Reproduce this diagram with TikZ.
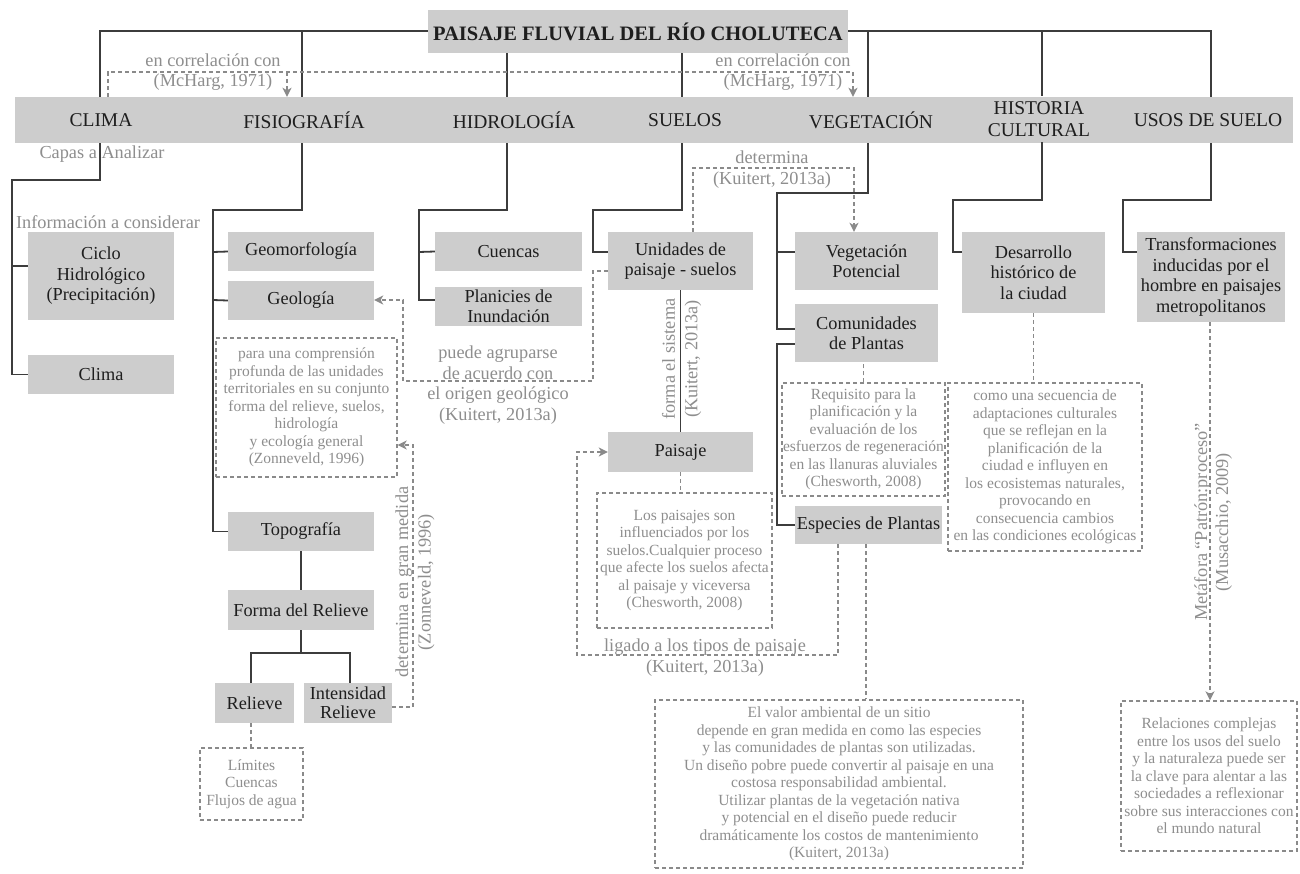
\documentclass[tikz,border=0pt]{standalone}
\usepackage{fontspec}
\setmainfont{Liberation Serif}
\usetikzlibrary{arrows.meta}
\definecolor{boxgray}{HTML}{CDCDCD}
\definecolor{ink}{HTML}{1E1E1E}
\definecolor{lnk}{HTML}{3C3C3C}
\definecolor{dsh}{HTML}{8A8A8A}
\definecolor{ntx}{HTML}{8E8E8E}
\begin{document}
\begin{tikzpicture}[x=1pt,y=-1pt,
  box/.style={fill=boxgray, inner sep=0pt, align=center, text=ink, font=\fontsize{18.3}{20.5}\selectfont},
  hdr/.style={inner sep=0pt, minimum height=46pt, align=center, text=ink, font=\fontsize{19.5}{22}\selectfont},
  lab/.style={inner sep=0pt, align=center, text=ntx, font=\fontsize{18.3}{20.5}\selectfont},
  dbox/.style={draw=dsh, line width=1.3pt, dash pattern=on 4pt off 3pt, inner sep=0pt, align=center, text=ntx, font=\fontsize{15.5}{17.5}\selectfont},
  conn/.style={draw=lnk, line width=1.8pt},
  dline/.style={draw=dsh, line width=1.4pt, dash pattern=on 4pt off 3pt},
  arr/.style={-{Stealth[length=9pt,width=9pt,inset=2.5pt]}},
]
\path[use as bounding box, fill=white] (0,0) rectangle (1300,873);

% title and header band
\node[box, minimum width=420pt, minimum height=43pt, font=\bfseries\fontsize{20.5}{22}\selectfont] (title) at (638,31.5) {PAISAJE FLUVIAL DEL RÍO CHOLUTECA};
\node[fill=boxgray, minimum width=1278pt, minimum height=46pt, inner sep=0pt] (band) at (654,120) {};
\node[hdr] (clima) at (101,120) {CLIMA};
\node[hdr] (fisio) at (304,120) {FISIOGRAFÍA};
\node[hdr] (hidro) at (514,120) {HIDROLOGÍA};
\node[hdr] (suelos) at (685,120) {SUELOS};
\node[hdr] (veget) at (871,120) {VEGETACIÓN};
\node[hdr] (hist) at (1039,119) {HISTORIA\\CULTURAL};
\node[hdr] (usos) at (1208,120) {USOS DE SUELO};

% title connectors
\draw[conn] (title.west |- 0,31) -| (clima.north -| 100,0);
\draw[conn] (fisio.north -| 302,0) -- (302,31);
\draw[conn] (title.east |- 0,31) -| (usos.north -| 1211,0);
\draw[conn] (veget.north -| 868,0) -- (868,31);
\draw[conn] (hist.north -| 1042,0) -- (1042,31);
\draw[conn] (title.south -| 507,0) -- (hidro.north -| 507,0);
\draw[conn] (title.south -| 682,0) -- (suelos.north -| 682,0);

% correlation dashed
\draw[dline, arr] (clima.north -| 108,0) -- (108,72) -- (853,72) -- (veget.north -| 853,0);
\draw[dline, arr] (287,72) -- (fisio.north -| 287,0);
\node[lab, font=\fontsize{18.3}{20}\selectfont] (corr1) at (213,72) {en correlación con\\(McHarg, 1971)};
\node[lab, font=\fontsize{18.3}{20}\selectfont] (corr2) at (783,72) {en correlación con\\(McHarg, 1971)};

% CLIMA branch
\node[lab] (capas) at (102,154) {Capas a Analizar};
\node[lab] (info) at (108,222) {Información a considerar};
\node[box, minimum width=146pt, minimum height=88pt] (ciclo) at (101,276) {Ciclo\\Hidrológico\\(Precipitación)};
\node[box, minimum width=146pt, minimum height=39pt] (climab) at (101,374.5) {Clima};
\draw[conn] (clima.south -| 100,0) |- (12,180) |- (climab.west);
\draw[conn] (12,266) -- (ciclo.west |- 0,266);

% FISIOGRAFIA branch
\node[box, minimum width=146pt, minimum height=39pt] (geomorf) at (301,251.5) {Geomorfología};
\node[box, minimum width=146pt, minimum height=39pt] (geolog) at (301,300.5) {Geología};
\node[dbox, minimum width=181pt, minimum height=139pt] (para) at (306.5,407.5) {para una comprensión\\profunda de las unidades\\territoriales en su conjunto\\forma del relieve, suelos,\\hidrología\\y ecología general\\(Zonneveld, 1996)};
\node[box, minimum width=146pt, minimum height=39pt] (topo) at (301,531.5) {Topografía};
\node[box, minimum width=146pt, minimum height=40pt] (forma) at (301,610) {Forma del Relieve};
\node[box, minimum width=79pt, minimum height=40pt] (relieve) at (254.5,703) {Relieve};
\node[box, minimum width=88pt, minimum height=40pt, font=\fontsize{18.3}{19}\selectfont] (intens) at (348,703) {Intensidad\\Relieve};
\node[dbox, minimum width=103pt, minimum height=72pt] (limites) at (251.5,784) {Límites\\Cuencas\\Flujos de agua};
\draw[conn] (fisio.south -| 302,0) |- (213,210) |- (topo.west);
\draw[conn] (213,252) -- (geomorf.west);
\draw[conn] (213,300) -- (geolog.west);
\draw[conn] (topo.south) -- (forma.north);
\draw[conn] (forma.south) -- (forma.south |- 0,653);
\draw[conn] (relieve.north -| 251,0) |- (350,653) -- (intens.north -| 350,0);
\draw[dline] (relieve.south -| 251,0) -- (limites.north -| 251,0);
\draw[dline, arr] (intens.east |- 0,707) -- (413,707) -- (413,445) -- (para.east |- 0,445);
\node[lab, rotate=90, font=\fontsize{18.3}{22.5}\selectfont] (detzon) at (415,582) {determina en gran medida\\(Zonneveld, 1996)};

% HIDROLOGIA branch
\node[box, minimum width=147pt, minimum height=39pt] (cuencas) at (508.5,251.5) {Cuencas};
\node[box, minimum width=147pt, minimum height=39pt, font=\fontsize{18.3}{20}\selectfont] (planic) at (508.5,306.5) {Planicies de\\Inundación};
\draw[conn] (hidro.south -| 507,0) |- (419,210) |- (planic.west |- 0,300);
\draw[conn] (419,252) -- (cuencas.west);

% SUELOS branch
\node[box, minimum width=145pt, minimum height=58pt] (unid) at (680.5,261) {Unidades de\\paisaje - suelos};
\node[box, minimum width=145pt, minimum height=40pt] (paisaje) at (680.5,452) {Paisaje};
\node[dbox, minimum width=175pt, minimum height=135pt] (lospais) at (684.5,560.5) {Los paisajes son\\influenciados por los\\suelos.Cualquier proceso\\que afecte los suelos afecta\\al paisaje y viceversa\\(Chesworth, 2008)};
\draw[conn] (suelos.south -| 682,0) |- (593,210) |- (unid.west |- 0,252);
\draw[conn] (unid.south) -- (paisaje.north);
\node[lab, rotate=90, font=\fontsize{18.3}{22.5}\selectfont] (forma2) at (681.5,359) {forma el sistema\\(Kuitert, 2013a)};
\draw[dline, arr] (unid.west |- 0,271) -- (593,271) -- (593,381) -- (403,381) -- (403,300) -- (geolog.east |- 0,300);
\node[lab] (agrup) at (498,385) {puede agruparse\\de acuerdo con\\el origen geológico\\(Kuitert, 2013a)};
\draw[dline] (paisaje.south) -- (paisaje.south |- lospais.north);

% VEGETACION branch
\node[box, minimum width=143pt, minimum height=58pt] (vegpot) at (866.5,261) {Vegetación\\Potencial};
\node[box, minimum width=143pt, minimum height=58pt] (comun) at (866.5,333) {Comunidades\\de Plantas};
\node[dbox, minimum width=163pt, minimum height=113pt] (requi) at (863.5,439.5) {Requisito para la\\planificación y la\\evaluación de los\\esfuerzos de regeneración\\en las llanuras aluviales\\(Chesworth, 2008)};
\node[box, minimum width=147pt, minimum height=38pt] (especies) at (868.5,525) {Especies de Plantas};
\node[dbox, minimum width=368pt, minimum height=168pt] (valor) at (839,784) {El valor ambiental de un sitio\\depende en gran medida en como las especies\\y las comunidades de plantas son utilizadas.\\Un diseño pobre puede convertir al paisaje en una\\costosa responsabilidad ambiental.\\Utilizar plantas de la vegetación nativa\\y potencial en el diseño puede reducir\\dramáticamente los costos de mantenimiento\\(Kuitert, 2013a)};
\draw[conn] (veget.south -| 868,0) |- (777,193) |- (comun.west |- 0,329);
\draw[conn] (777,252) -- (vegpot.west |- 0,252);
\draw[conn] (comun.west |- 0,344) -- (777,344) |- (especies.west);
\draw[dline, arr] (unid.north -| 693,0) -- (693,168) -- (854,168) -- (vegpot.north -| 854,0);
\node[lab, font=\fontsize{18.3}{21}\selectfont] (determ) at (772,169.5) {determina\\(Kuitert, 2013a)};
\draw[dline] (requi.north) -- (requi.north |- comun.south);
\draw[dline] (especies.south -| 866,0) -- (valor.north -| 866,0);
\draw[dline, arr] (especies.south -| 838,0) -- (838,655) -- (577,655) -- (577,452) -- (paisaje.west);
\node[lab, font=\fontsize{18.3}{21}\selectfont] (ligado) at (705,657.5) {ligado a los tipos de paisaje\\(Kuitert, 2013a)};

% HISTORIA CULTURAL branch
\node[box, minimum width=143pt, minimum height=81pt] (desarr) at (1033.5,272.5) {Desarrollo\\histórico de\\la ciudad};
\node[dbox, minimum width=194pt, minimum height=168pt] (como) at (1045,467) {como una secuencia de\\adaptaciones culturales\\que se reflejan en la\\planificación de la\\ciudad e influyen en\\los ecosistemas naturales,\\provocando en\\consecuencia cambios\\en las condiciones ecológicas};
\draw[conn] (hist.south -| 1042,0) |- (953,200) |- (desarr.west |- 0,252);
\draw[dline] (desarr.south) -- (desarr.south |- como.north);

% USOS DE SUELO branch
\node[box, minimum width=148pt, minimum height=90pt] (transf) at (1211,277) {Transformaciones\\inducidas por el\\hombre en paisajes\\metropolitanos};
\node[dbox, minimum width=176pt, minimum height=150pt] (relac) at (1209,776) {Relaciones complejas\\entre los usos del suelo\\y la naturaleza puede ser\\la clave para alentar a las\\sociedades a reflexionar\\sobre sus interacciones con\\el mundo natural};
\draw[conn] (usos.south -| 1211,0) |- (1123,200) |- (transf.west |- 0,252);
\draw[dline, arr] (transf.south -| 1210,0) -- (relac.north -| 1210,0);
\node[lab, rotate=90, font=\fontsize{18.3}{21}\selectfont] (metaf) at (1213,522) {Metáfora “Patrón:proceso”\\(Musacchio, 2009)};
\end{tikzpicture}
\end{document}
